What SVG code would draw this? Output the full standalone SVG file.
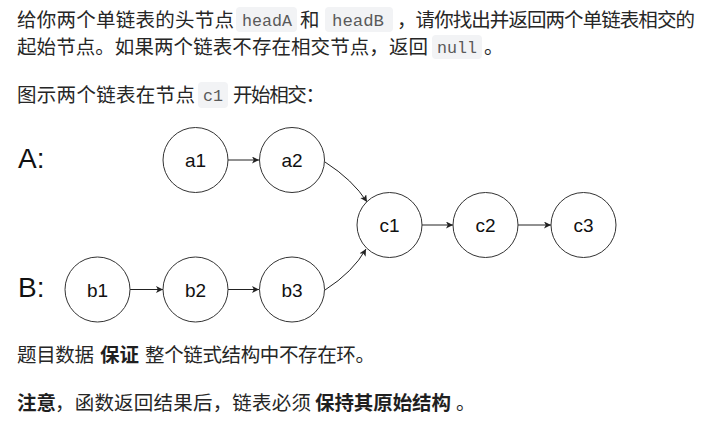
<svg xmlns="http://www.w3.org/2000/svg" width="719" height="425" viewBox="0 0 719 425">
<defs>
<style>
.t{font-family:"Noto Sans CJK SC","Noto Sans",sans-serif;font-size:19.5px;fill:#262626}
.b{font-weight:bold;fill:#1f1f1f}
.code{font-family:"Liberation Mono","DejaVu Sans Mono",monospace;font-size:16.5px;fill:#5a5a5a}
.cb{fill:#f2f3f5}
.node circle{fill:#fff;stroke:#333;stroke-width:1}
.node text{font-family:"Liberation Sans",Arial,sans-serif;font-size:19px;fill:#111;text-anchor:middle}
.lbl{font-family:"Liberation Sans",Arial,sans-serif;font-size:28px;fill:#111}
.edge{fill:none;stroke:#222;stroke-width:1}
</style>
<marker id="arr" markerWidth="8" markerHeight="8" refX="7" refY="3.5" orient="auto" markerUnits="userSpaceOnUse">
<path d="M0,0 L7,3.5 L0,7 L1.8,3.5 z" fill="#222"/>
</marker>
</defs>
<rect width="719" height="425" fill="#fff"/>

<!-- paragraph text -->
<rect class="cb" x="236" y="7" width="61" height="25" rx="4"/>
<rect class="cb" x="325" y="7" width="68" height="25" rx="4"/>
<rect class="cb" x="432" y="35" width="50" height="24" rx="4"/>
<rect class="cb" x="198" y="82" width="30" height="26" rx="4"/>

<text class="t" x="17" y="27" textLength="217" lengthAdjust="spacing">给你两个单链表的头节点</text>
<text class="code" x="242" y="26" textLength="50" lengthAdjust="spacingAndGlyphs">headA</text>
<text class="t" x="300" y="27">和</text>
<text class="code" x="332" y="26" textLength="52" lengthAdjust="spacingAndGlyphs">headB</text>
<text class="t" x="397" y="27" textLength="298" lengthAdjust="spacing">，请你找出并返回两个单链表相交的</text>

<text class="t" x="17" y="54" textLength="411" lengthAdjust="spacing">起始节点。如果两个链表不存在相交节点，返回</text>
<text class="code" x="437" y="53" textLength="40" lengthAdjust="spacingAndGlyphs">null</text>
<text class="t" x="484" y="54">。</text>

<text class="t" x="17" y="102" textLength="178" lengthAdjust="spacing">图示两个链表在节点</text>
<text class="code" x="203" y="101" textLength="20" lengthAdjust="spacingAndGlyphs">c1</text>
<text class="t" x="233" y="102" textLength="92" lengthAdjust="spacing">开始相交：</text>

<text class="t" x="17" y="362" textLength="77" lengthAdjust="spacing">题目数据</text>
<text class="t b" x="100" y="362" textLength="39" lengthAdjust="spacing">保证</text>
<text class="t" x="145" y="362" textLength="230" lengthAdjust="spacing">整个链式结构中不存在环。</text>

<text class="t b" x="17" y="410" textLength="39" lengthAdjust="spacing">注意</text>
<text class="t" x="55" y="410" textLength="256" lengthAdjust="spacing">，函数返回结果后，链表必须</text>
<text class="t b" x="315" y="410" textLength="136" lengthAdjust="spacing">保持其原始结构</text>
<text class="t" x="456" y="410">。</text>

<!-- list labels -->
<text class="lbl" x="18" y="168">A:</text>
<text class="lbl" x="18" y="297">B:</text>

<!-- connectors -->
<g id="connectors">
<line class="edge" x1="228" y1="160" x2="259" y2="160" marker-end="url(#arr)"/>
<line class="edge" x1="130" y1="289.5" x2="163" y2="289.5" marker-end="url(#arr)"/>
<line class="edge" x1="228" y1="289.5" x2="259" y2="289.5" marker-end="url(#arr)"/>
<path class="edge" d="M325,162 Q353,180 367,202" marker-end="url(#arr)"/>
<path class="edge" d="M325,290 Q353,272 366,249" marker-end="url(#arr)"/>
<line class="edge" x1="422" y1="225" x2="453" y2="225" marker-end="url(#arr)"/>
<line class="edge" x1="518" y1="225" x2="551" y2="225" marker-end="url(#arr)"/>
</g>

<!-- nodes -->
<g id="a1" class="node"><circle cx="195.5" cy="160" r="32.5"/><text x="195.5" y="167">a1</text></g>
<g id="a2" class="node"><circle cx="292" cy="160" r="32.5"/><text x="292" y="167">a2</text></g>
<g id="b1" class="node"><circle cx="97.5" cy="289.5" r="32.5"/><text x="97.5" y="297">b1</text></g>
<g id="b2" class="node"><circle cx="195.5" cy="289.5" r="32.5"/><text x="195.5" y="297">b2</text></g>
<g id="b3" class="node"><circle cx="292" cy="289.5" r="32.5"/><text x="292" y="297">b3</text></g>
<g id="c1" class="node"><circle cx="389.5" cy="225" r="32.5"/><text x="389.5" y="232">c1</text></g>
<g id="c2" class="node"><circle cx="485.5" cy="225" r="32.5"/><text x="485.5" y="232">c2</text></g>
<g id="c3" class="node"><circle cx="583.5" cy="225" r="32.5"/><text x="583.5" y="232">c3</text></g>
</svg>
